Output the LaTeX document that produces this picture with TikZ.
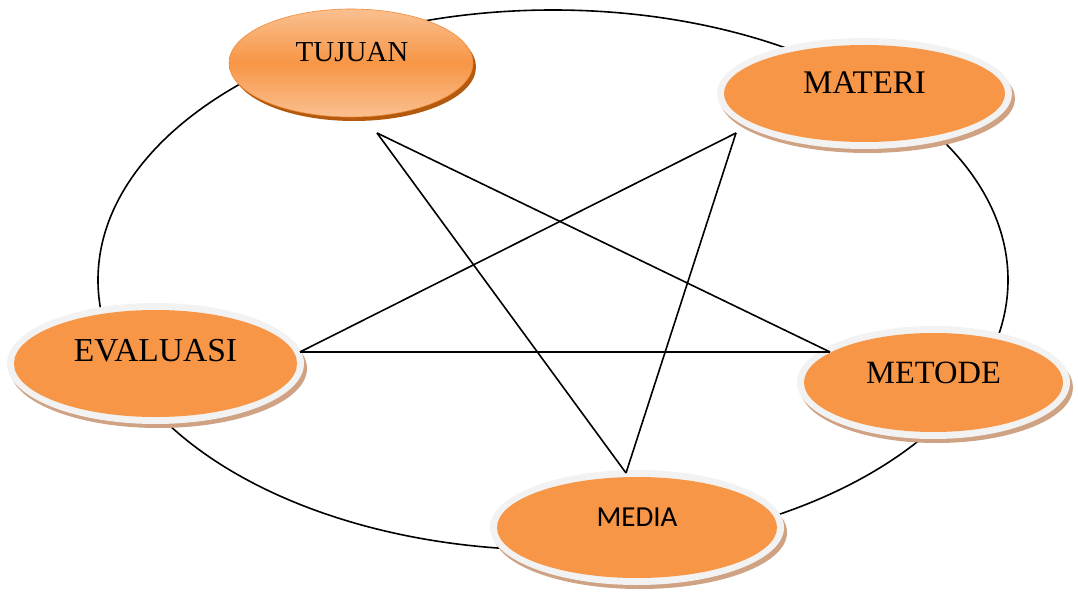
\documentclass[tikz,border=0pt]{standalone}
\usepackage{fontspec}
\setmainfont{Liberation Serif}
\newfontfamily\calibfont{Carlito}
\usetikzlibrary{shapes.geometric}
\definecolor{orangefill}{HTML}{F79646}
\definecolor{ringgray}{HTML}{F2F2F2}
\definecolor{shadowbrown}{HTML}{CFA283}
\definecolor{tujlight}{HTML}{FAC090}
\definecolor{tujedge}{HTML}{F08C3A}
\definecolor{tujshadow}{HTML}{B35A0E}
\tikzset{
  orangeell/.style={ellipse, fill=orangefill, inner sep=0pt},
  lbl/.style={inner sep=0pt, text=black},
  serifbig/.style={font=\fontsize{33}{38}\selectfont},
  bigring/.style={line width=1.6pt, draw=black},
  starline/.style={line width=1.6pt, draw=black},
}
\newcommand\RingEll[8]{%
  \fill[shadowbrown] (#2+3,#3+5) ellipse [x radius=#4+7, y radius=#5+6];
  \fill[ringgray] (#2,#3) ellipse [x radius=#4+7, y radius=#5+7];
  \node[orangeell, minimum width={2*#4}, minimum height={2*#5}] (#1) at (#2,#3) {};
  \node[lbl, #7] (#1lbl) at (#2,#8) {#6};
}
\begin{document}
\begin{tikzpicture}[x=1pt,y=-1pt]
\useasboundingbox (0,0) rectangle (1078,593);
\fill[white] (0,0) rectangle (1078,593);
% big ellipse
\draw[bigring] (553,280) ellipse [x radius=455, y radius=270];
% TUJUAN
\fill[tujshadow] (354,67) ellipse [x radius=122, y radius=54];
\node[ellipse, inner sep=0pt, minimum width=244pt, minimum height=108pt,
      top color=tujlight, bottom color=tujlight, middle color=orangefill,
      draw=tujedge, line width=0.6pt] (tujuan) at (351,63) {};
\node[lbl, font=\fontsize{29}{34}\selectfont] (tujuanlbl) at (352,52) {TUJUAN};
% ringed ellipses
\RingEll{materi}{864.5}{93.5}{140.5}{48.5}{MATERI}{font=\fontsize{33}{38}\selectfont}{83}
\RingEll{evaluasi}{155.5}{363.5}{141.5}{53.5}{EVALUASI}{font=\fontsize{33.5}{38}\selectfont}{351}
\RingEll{metode}{933.5}{382.5}{129.5}{49.5}{METODE}{font=\fontsize{32.5}{38}\selectfont}{373}
\RingEll{media}{637}{527.5}{140}{50.5}{MEDIA}{font=\calibfont\fontsize{29}{34}\selectfont}{517}
% star vertices
\coordinate (vT) at (377,133);
\coordinate (vM) at (736,133);
\coordinate (vE) at (300,352);
\coordinate (vO) at (830,352);
\coordinate (vD) at (626,473);
\draw[starline] (vT) -- (vD);
\draw[starline] (vT) -- (vO);
\draw[starline] (vM) -- (vE);
\draw[starline] (vM) -- (vD);
\draw[starline] (vE) -- (vO);
\end{tikzpicture}
\end{document}
